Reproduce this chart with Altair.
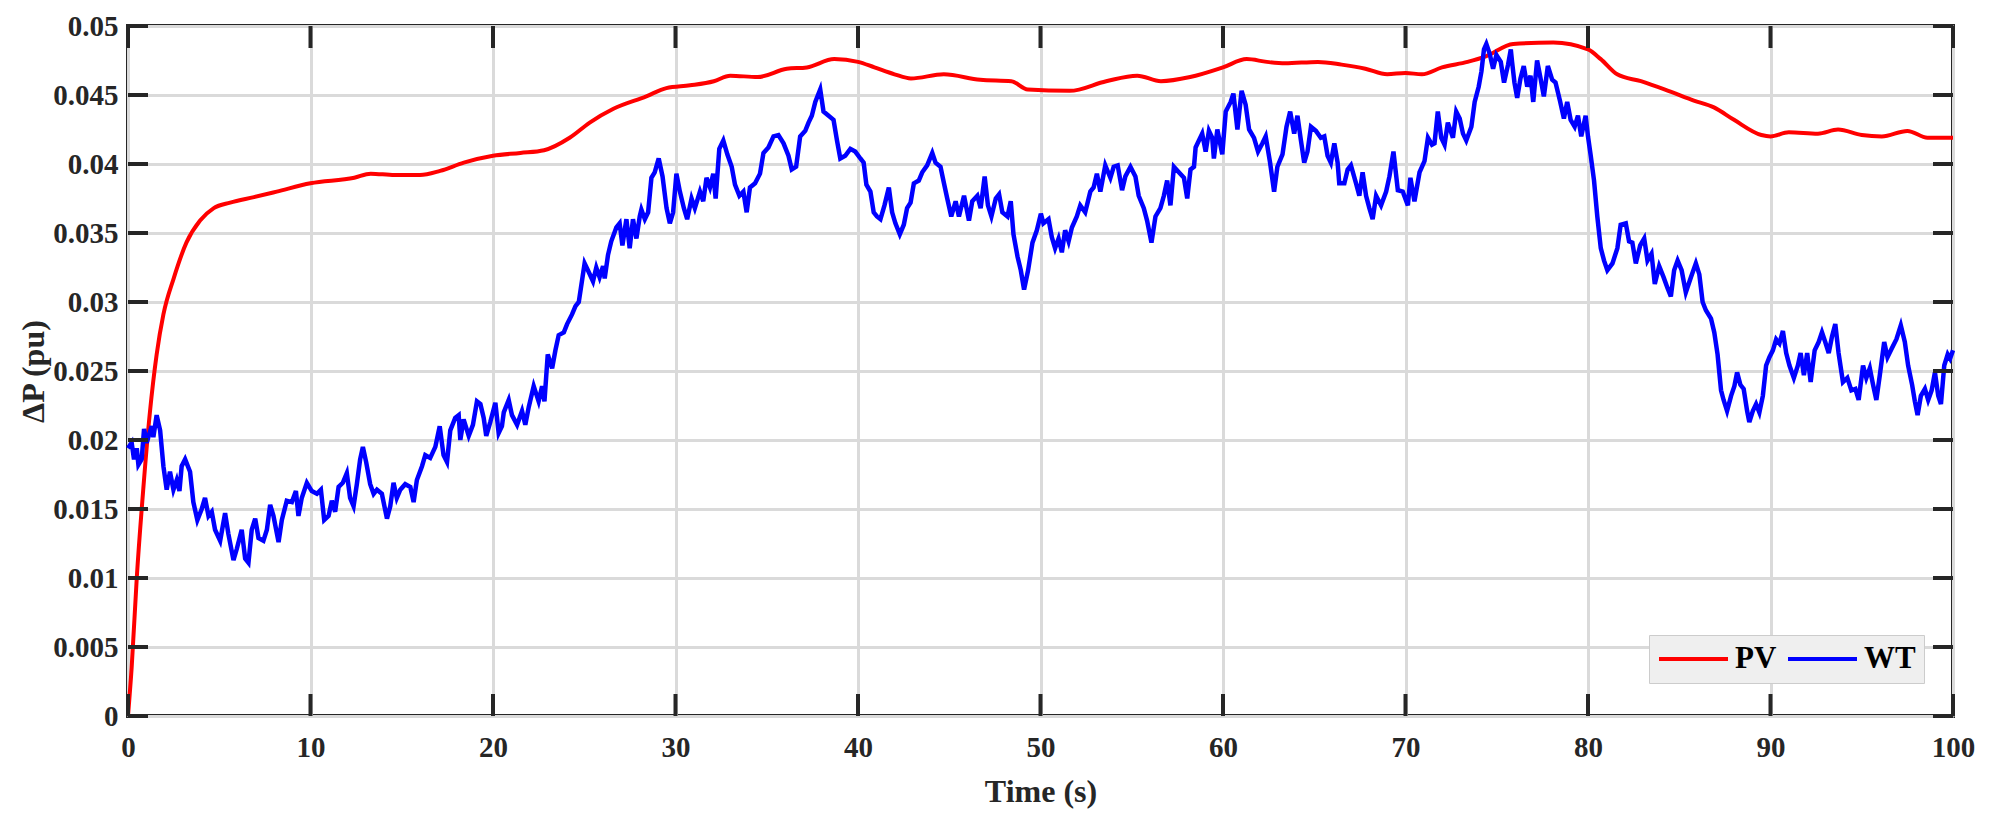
import altair as alt
import pandas as pd

# ---- PV (smooth red curve) ----
pv_t = [0, 0.2, 0.48, 0.84, 1.2, 1.57, 1.94, 2.5, 3.2, 3.95,
        4.7, 5.6, 6.9, 8.15, 10, 12.4, 13.3, 14.6, 16, 17.1,
        18.4, 20, 21.5, 22.8, 24.2, 25.3, 26.6, 28.4, 29.5, 30.8,
        32.1, 33, 34.5, 36.1, 37.2, 38.7, 40, 40.9, 42, 42.9,
        44.7, 46.7, 48.4, 49.3, 51.6, 53.6, 55.3, 56.6, 58.2, 60,
        61.3, 62.4, 63.4, 65.2, 66.5, 67.8, 69, 70, 70.9, 72,
        73.4, 74.4, 75.9, 78.1, 80, 80.7, 81.6, 82.9, 84.4, 85.8,
        86.9, 88, 89.5, 90, 91, 92.6, 93.7, 95, 96.1, 97.5,
        98.6, 100]
pv_v = [0, 0.0035, 0.01, 0.0165, 0.022, 0.0262, 0.0291, 0.0317, 0.0343, 0.0359,
        0.0368, 0.0372, 0.0376, 0.038, 0.0386, 0.039, 0.0393, 0.0392, 0.0392, 0.0395,
        0.0401, 0.0406, 0.0408, 0.041, 0.0419, 0.043, 0.044, 0.0449, 0.0455, 0.0457,
        0.046, 0.0464, 0.0463, 0.0469, 0.047, 0.0476, 0.0474, 0.047, 0.0465, 0.0462,
        0.0465, 0.0461, 0.046, 0.0454, 0.0453, 0.046, 0.0464, 0.046, 0.0463, 0.047,
        0.0476, 0.0474, 0.0473, 0.0474, 0.0472, 0.0469, 0.0465, 0.0466, 0.0465, 0.047,
        0.0474, 0.0478, 0.0487, 0.0488, 0.0483, 0.0476, 0.0465, 0.046, 0.0453, 0.0446,
        0.0441, 0.0432, 0.0421, 0.042, 0.0423, 0.0422, 0.0425, 0.0421, 0.042, 0.0424,
        0.0419, 0.0419]

# ---- WT (noisy blue curve), read in four stretches ----
wt_t_a = [0.0, 0.2, 0.33, 0.48, 0.57, 0.75, 0.88, 1.02, 1.3, 1.39,
          1.57, 1.76, 1.94, 2.12, 2.3, 2.49, 2.67, 2.82, 2.94, 3.13,
          3.4, 3.58, 3.8, 4.04, 4.22, 4.41, 4.59, 4.77, 5.05, 5.32,
          5.5, 5.78, 5.96, 6.23, 6.42, 6.6, 6.78, 6.97, 7.15, 7.42,
          7.61, 7.79, 7.97, 8.25, 8.43, 8.7, 8.98, 9.2, 9.34, 9.52,
          9.8, 10.07, 10.35, 10.57, 10.75, 10.99, 11.17, 11.35, 11.54, 11.77,
          11.99, 12.17, 12.36, 12.54, 12.72, 12.87, 13.05, 13.27, 13.46, 13.64,
          13.91, 14.19, 14.37, 14.55, 14.73, 14.92, 15.19, 15.47, 15.65, 15.83,
          16.11, 16.29, 16.56, 16.84, 17.08, 17.29, 17.48, 17.66, 17.93, 18.12,
          18.21, 18.39, 18.67, 18.9, 19.12, 19.31, 19.49, 19.63, 19.85, 20.13,
          20.31, 20.49, 20.59, 20.86, 21.04, 21.32, 21.59, 21.77, 21.96, 22.23,
          22.5, 22.69, 22.82, 23.0, 23.24, 23.42, 23.6, 23.88, 24.06, 24.33,
          24.52, 24.7]
wt_v_a = [0.0194, 0.0198, 0.0186, 0.0194, 0.0182, 0.0186, 0.0208, 0.0198, 0.021, 0.0202,
          0.0218, 0.0207, 0.0181, 0.0164, 0.0177, 0.0164, 0.0171, 0.0163, 0.0181, 0.0186,
          0.0177, 0.0155, 0.0142, 0.015, 0.0158, 0.0145, 0.0148, 0.0135, 0.0127, 0.0147,
          0.0132, 0.0113, 0.0121, 0.0135, 0.0114, 0.0111, 0.0135, 0.0143, 0.0129, 0.0127,
          0.0135, 0.0153, 0.0145, 0.0126, 0.0142, 0.0156, 0.0155, 0.0163, 0.0145, 0.0158,
          0.0169, 0.0163, 0.0161, 0.0164, 0.0142, 0.0145, 0.0156, 0.0148, 0.0166, 0.0169,
          0.0176, 0.0158, 0.0152, 0.0168, 0.0186, 0.0195, 0.0184, 0.0168, 0.0161, 0.0164,
          0.0161, 0.0143, 0.0152, 0.0169, 0.0158, 0.0164, 0.0168, 0.0166, 0.0155, 0.0171,
          0.0181, 0.0189, 0.0187, 0.0195, 0.021, 0.0189, 0.0184, 0.0207, 0.0216, 0.0218,
          0.02, 0.0215, 0.0203, 0.0211, 0.0228, 0.0226, 0.0216, 0.0203, 0.0213, 0.0227,
          0.0205, 0.021, 0.022, 0.0229, 0.0218, 0.0211, 0.0221, 0.0211, 0.0224, 0.0239,
          0.0228, 0.0239, 0.0228, 0.0262, 0.0252, 0.0265, 0.0276, 0.0278, 0.0284, 0.0291,
          0.0297, 0.03]

wt_t_b = [25.02, 25.2, 25.48, 25.66, 25.84, 26.03, 26.12, 26.3, 26.48, 26.76,
          26.94, 27.09, 27.31, 27.49, 27.67, 27.86, 28.04, 28.13, 28.32, 28.5,
          28.68, 28.86, 29.08, 29.29, 29.51, 29.69, 29.87, 30.05, 30.24, 30.46,
          30.64, 30.88, 31.06, 31.34, 31.52, 31.7, 31.89, 32.07, 32.2, 32.4,
          32.62, 32.84, 33.08, 33.26, 33.5, 33.72, 33.9, 34.08, 34.36, 34.63,
          34.82, 35.09, 35.37, 35.64, 35.92, 36.19, 36.37, 36.61, 36.83, 37.11,
          37.29, 37.47, 37.66, 37.93, 38.11, 38.39, 38.66, 38.85, 39.03, 39.3,
          39.58, 39.85, 40.13, 40.31, 40.46, 40.68, 40.86, 41.04, 41.23, 41.45,
          41.69, 41.87, 42.05, 42.29, 42.51, 42.69, 42.88, 43.06, 43.33, 43.52,
          43.79, 44.07, 44.25, 44.52, 44.71, 44.89, 45.11, 45.35, 45.53, 45.81,
          46.08, 46.26, 46.54, 46.72, 46.94, 47.12, 47.31, 47.55, 47.73, 47.91,
          48.19, 48.37, 48.52, 48.74, 48.92, 49.1, 49.32, 49.56, 49.8, 50.02]
wt_v_b = [0.0328, 0.0323, 0.0315, 0.0325, 0.0318, 0.0326, 0.0317, 0.0334, 0.0344, 0.0354,
          0.0357, 0.0341, 0.036, 0.0339, 0.036, 0.0346, 0.0362, 0.0367, 0.036, 0.0365,
          0.039, 0.0394, 0.0404, 0.0391, 0.0368, 0.0357, 0.0365, 0.0393, 0.038, 0.0368,
          0.036, 0.0375, 0.0368, 0.038, 0.0373, 0.039, 0.0383, 0.0393, 0.0375, 0.0411,
          0.0417, 0.0407, 0.0398, 0.0385, 0.0377, 0.038, 0.0365, 0.0383, 0.0386, 0.0393,
          0.0408, 0.0412, 0.042, 0.0421, 0.0415, 0.0406, 0.0396, 0.0398, 0.042, 0.0424,
          0.043, 0.0435, 0.0445, 0.0454, 0.0438, 0.0435, 0.0432, 0.0417, 0.0404, 0.0406,
          0.0411, 0.0409, 0.0404, 0.0401, 0.0385, 0.038, 0.0365, 0.0362, 0.036, 0.037,
          0.0383, 0.0365, 0.0357, 0.0349, 0.0356, 0.0368, 0.0372, 0.0386, 0.0388, 0.0394,
          0.0399, 0.0408, 0.0401, 0.0398, 0.0386, 0.0375, 0.0362, 0.0373, 0.0362, 0.0377,
          0.0359, 0.0373, 0.0377, 0.0368, 0.0391, 0.037, 0.0362, 0.0375, 0.0378, 0.0365,
          0.0362, 0.0373, 0.0349, 0.0333, 0.0323, 0.0309, 0.0323, 0.0343, 0.0352, 0.0364]

wt_t_c = [50.16, 50.44, 50.62, 50.8, 50.99, 51.17, 51.35, 51.54, 51.72, 51.99,
          52.18, 52.45, 52.73, 52.91, 53.09, 53.28, 53.55, 53.83, 54.01, 54.23,
          54.47, 54.65, 54.93, 55.2, 55.38, 55.66, 55.84, 56.08, 56.3, 56.57,
          56.76, 56.94, 57.12, 57.31, 57.58, 57.86, 58.04, 58.22, 58.41, 58.5,
          58.68, 58.86, 59.05, 59.23, 59.41, 59.5, 59.69, 59.96, 60.15, 60.42,
          60.57, 60.79, 61.02, 61.24, 61.43, 61.7, 61.92, 62.16, 62.34, 62.58,
          62.8, 62.98, 63.26, 63.48, 63.68, 63.9, 64.08, 64.27, 64.45, 64.63,
          64.82, 65.09, 65.36, 65.55, 65.73, 65.91, 66.1, 66.28, 66.37, 66.65,
          66.83, 67.01, 67.29, 67.47, 67.65, 67.84, 68.02, 68.2, 68.39, 68.66,
          68.94, 69.12, 69.34, 69.58, 69.85, 70.13, 70.27, 70.49, 70.77, 71.04,
          71.23, 71.45, 71.59, 71.77, 71.96, 72.14, 72.32, 72.6, 72.78, 72.97,
          73.15, 73.33, 73.61, 73.79, 74.01, 74.16, 74.3, 74.43, 74.61, 74.8,
          74.98, 75.22, 75.4, 75.62, 75.77]
wt_v_c = [0.0357, 0.036, 0.0347, 0.0339, 0.0346, 0.0336, 0.0352, 0.0344, 0.0354, 0.0362,
          0.037, 0.0365, 0.038, 0.0383, 0.0393, 0.038, 0.0399, 0.039, 0.0398, 0.0399,
          0.0381, 0.0391, 0.0398, 0.0391, 0.0377, 0.0368, 0.0359, 0.0343, 0.0362, 0.0368,
          0.0377, 0.0388, 0.037, 0.0398, 0.0394, 0.039, 0.0375, 0.0396, 0.0398, 0.0412,
          0.0417, 0.0422, 0.0409, 0.0424, 0.0419, 0.0404, 0.0425, 0.0407, 0.0438, 0.0445,
          0.0451, 0.0425, 0.0453, 0.0443, 0.0425, 0.0419, 0.0409, 0.0415, 0.042, 0.0401,
          0.038, 0.0398, 0.0407, 0.0427, 0.0438, 0.0422, 0.0435, 0.0417, 0.0401, 0.0409,
          0.0427, 0.0424, 0.0419, 0.042, 0.0406, 0.0401, 0.0415, 0.0401, 0.0386, 0.0386,
          0.0396, 0.0399, 0.0386, 0.0377, 0.0394, 0.0377, 0.0368, 0.036, 0.0377, 0.037,
          0.038, 0.0391, 0.0409, 0.0381, 0.038, 0.037, 0.039, 0.0373, 0.0394, 0.0402,
          0.0419, 0.0414, 0.0415, 0.0438, 0.0419, 0.0414, 0.043, 0.0419, 0.0438, 0.0433,
          0.0422, 0.0417, 0.0427, 0.0445, 0.0456, 0.0467, 0.0483, 0.0487, 0.048, 0.0469,
          0.0479, 0.0474, 0.0459, 0.0472, 0.0483]

wt_t_d = [75.84, 75.97, 76.12, 76.3, 76.48, 76.67, 76.85, 77.0, 77.21, 77.4,
          77.58, 77.8, 78.04, 78.22, 78.46, 78.68, 78.86, 79.05, 79.27, 79.45,
          79.63, 79.87, 80.0, 80.15, 80.33, 80.51, 80.7, 80.88, 81.06, 81.34,
          81.61, 81.79, 82.07, 82.25, 82.43, 82.62, 82.86, 83.08, 83.26, 83.48,
          83.66, 83.9, 84.14, 84.36, 84.54, 84.72, 84.91, 85.13, 85.36, 85.64,
          85.91, 86.1, 86.28, 86.46, 86.74, 86.92, 87.1, 87.29, 87.43, 87.62,
          87.84, 88.02, 88.17, 88.35, 88.53, 88.72, 88.84, 89.03, 89.21, 89.39,
          89.58, 89.76, 89.94, 90.13, 90.31, 90.49, 90.68, 90.86, 91.04, 91.28,
          91.5, 91.65, 91.83, 92.01, 92.2, 92.42, 92.64, 92.82, 93.0, 93.19,
          93.37, 93.55, 93.73, 93.97, 94.21, 94.43, 94.65, 94.83, 95.07, 95.25,
          95.44, 95.62, 95.8, 95.99, 96.23, 96.41, 96.63, 96.9, 97.14, 97.36,
          97.54, 97.76, 97.91, 98.06, 98.24, 98.46, 98.64, 98.83, 99.01, 99.19,
          99.34, 99.52, 99.71, 99.84, 100.0]
wt_v_d = [0.0474, 0.0459, 0.0448, 0.0462, 0.0471, 0.0456, 0.0464, 0.0445, 0.0475, 0.0462,
          0.0449, 0.0471, 0.0461, 0.0459, 0.0446, 0.0433, 0.0445, 0.0432, 0.0427, 0.0435,
          0.042, 0.0435, 0.042, 0.0406, 0.0388, 0.0362, 0.0339, 0.033, 0.0323, 0.0328,
          0.0339, 0.0356, 0.0357, 0.0344, 0.0343, 0.0328, 0.0341, 0.0346, 0.033, 0.0335,
          0.0313, 0.0326, 0.0318, 0.031, 0.0304, 0.0323, 0.033, 0.0323, 0.0307, 0.0318,
          0.0328, 0.032, 0.03, 0.0294, 0.0288, 0.0278, 0.0262, 0.0236, 0.0229, 0.0221,
          0.0232, 0.0239, 0.0249, 0.024, 0.0237, 0.0221, 0.0213, 0.0221, 0.0226, 0.022,
          0.0232, 0.0254, 0.026, 0.0265, 0.0273, 0.027, 0.0279, 0.0263, 0.0254, 0.0245,
          0.0254, 0.0263, 0.0247, 0.0263, 0.0242, 0.0265, 0.0271, 0.0278, 0.0271, 0.0263,
          0.0275, 0.0284, 0.0263, 0.0242, 0.0245, 0.0236, 0.0237, 0.0229, 0.0254, 0.0245,
          0.0252, 0.024, 0.0229, 0.0247, 0.0271, 0.026, 0.0266, 0.0273, 0.0283, 0.0271,
          0.0254, 0.024, 0.0228, 0.0218, 0.0232, 0.0237, 0.0229, 0.0236, 0.0249, 0.0232,
          0.0226, 0.0254, 0.0262, 0.0259, 0.0265]

series_names = ["PV", "WT"]
series_colors = ["#ff0000", "#0000ff"]
x_ticks = [0, 10, 20, 30, 40, 50, 60, 70, 80, 90, 100]
y_ticks = [0, 0.005, 0.01, 0.015, 0.02, 0.025, 0.03, 0.035, 0.04, 0.045, 0.05]

W, H = 1825, 690
FONT = "Liberation Serif"
DARK = "#262626"

wt_t = wt_t_a + wt_t_b + wt_t_c + wt_t_d
wt_v = wt_v_a + wt_v_b + wt_v_c + wt_v_d

pv_df = pd.DataFrame({"t": pv_t, "v": pv_v, "s": "PV"})
wt_df = pd.DataFrame({"t": wt_t, "v": wt_v, "s": "WT"})

xscale = alt.Scale(domain=[0, 100], nice=False, zero=False)
yscale = alt.Scale(domain=[0, 0.05], nice=False)

x_axis = alt.Axis(values=x_ticks, title="Time (s)", grid=True, gridColor="#dadada",
                  gridWidth=3, ticks=False, domain=False, labelFont=FONT,
                  labelFontSize=29, labelFontWeight="bold", labelColor=DARK,
                  labelPadding=17, labelFlush=False, titleFont=FONT, titleFontSize=32,
                  titleFontWeight="bold", titleColor=DARK, titleBaseline="alphabetic",
                  titleY=85)
y_axis = alt.Axis(values=y_ticks, title="ΔP (pu)", format=".3~f", grid=True,
                  gridColor="#dadada", gridWidth=3, ticks=False, domain=False,
                  labelFont=FONT, labelFontSize=29, labelFontWeight="bold",
                  labelColor=DARK, labelPadding=10, titleFont=FONT, titleFontSize=32,
                  titleFontWeight="bold", titleColor=DARK, titleBaseline="alphabetic",
                  titleAngle=270, titleAlign="center", titleX=-85, titleY=H / 2)

color = alt.Color("s:N", scale=alt.Scale(domain=series_names, range=series_colors),
                  legend=alt.Legend(orient="none", legendX=1521, legendY=609,
                                    direction="horizontal", title=None,
                                    symbolType="stroke", symbolSize=4761,
                                    symbolStrokeWidth=4, labelFont=FONT,
                                    labelFontSize=31, labelFontWeight="bold",
                                    labelColor="#000000", fillColor="#efefef",
                                    strokeColor="#cccccc", padding=8, clipHeight=32,
                                    columnPadding=9, labelOffset=5))

pv_line = alt.Chart(pv_df).mark_line(strokeWidth=4, interpolate="monotone").encode(
    x=alt.X("t:Q", scale=xscale, axis=x_axis),
    y=alt.Y("v:Q", scale=yscale, axis=y_axis),
    color=color,
)
wt_line = alt.Chart(wt_df).mark_line(strokeWidth=4.5).encode(
    x=alt.X("t:Q", scale=xscale, axis=x_axis),
    y=alt.Y("v:Q", scale=yscale, axis=y_axis),
    color=color,
)

yt_df = pd.DataFrame({"v": y_ticks})
xt_df = pd.DataFrame({"t": x_ticks})
tick_style = dict(color=DARK, strokeWidth=4)
left_ticks = alt.Chart(yt_df).mark_rule(**tick_style).encode(
    y=alt.Y("v:Q", scale=yscale, axis=y_axis), x=alt.value(0), x2=alt.value(20))
right_ticks = alt.Chart(yt_df).mark_rule(**tick_style).encode(
    y=alt.Y("v:Q", scale=yscale, axis=y_axis), x=alt.value(W - 20), x2=alt.value(W))
bottom_ticks = alt.Chart(xt_df).mark_rule(**tick_style).encode(
    x=alt.X("t:Q", scale=xscale, axis=x_axis), y=alt.value(H - 22), y2=alt.value(H))
top_ticks = alt.Chart(xt_df).mark_rule(**tick_style).encode(
    x=alt.X("t:Q", scale=xscale, axis=x_axis), y=alt.value(0), y2=alt.value(22))

chart = alt.layer(pv_line, wt_line, left_ticks, right_ticks, bottom_ticks, top_ticks).properties(
    width=W, height=H,
    padding={"left": 120, "top": 18, "right": 28, "bottom": 100},
    autosize=alt.AutoSizeParams(type="none"),
    background="#ffffff",
).configure_view(stroke=DARK, strokeWidth=4)

chart.save("out.html", embed_options={"renderer": "svg", "actions": False})
